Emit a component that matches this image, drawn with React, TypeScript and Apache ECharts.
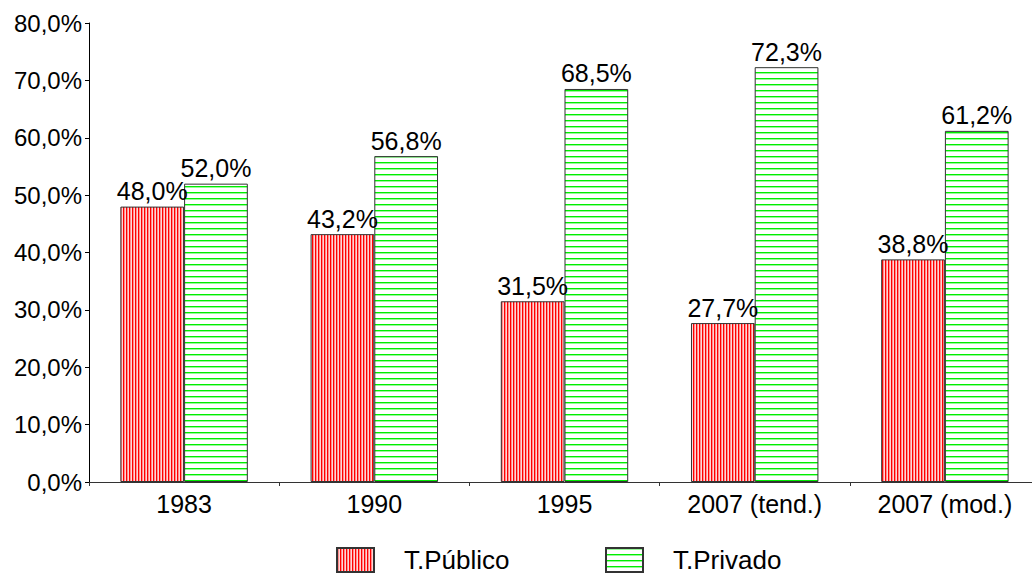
import React, { useEffect, useRef } from "react";
import * as echarts from "echarts";

const categories = ["1983", "1990", "1995", "2007 (tend.)", "2007 (mod.)"];
const publico = [48.0, 43.2, 31.5, 27.7, 38.8];
const privado = [52.0, 56.8, 68.5, 72.3, 61.2];
const seriesNames = ["T.Público", "T.Privado"];

const FONT = "'Liberation Sans', Arial, sans-serif";

function makePattern(kind: "v" | "h"): string {
  const c = document.createElement("canvas");
  const ctx = c.getContext("2d")!;
  if (kind === "v") {
    c.width = 3;
    c.height = 4;
    const cols = ["#ff0000", "#ff8c8c", "#ffd6d6"];
    cols.forEach((col, i) => {
      ctx.fillStyle = col;
      ctx.fillRect(i, 0, 1, 4);
    });
  } else {
    c.width = 4;
    c.height = 6;
    ctx.fillStyle = "#ffffff";
    ctx.fillRect(0, 0, 4, 6);
    ctx.fillStyle = "#00ee00";
    ctx.fillRect(0, 0, 4, 1.4);
  }
  return c.toDataURL();
}

const fmt = (v: number) => v.toFixed(1).replace(".", ",") + "%";

export default function App() {
  const ref = useRef<HTMLDivElement>(null);
  useEffect(() => {
    if (!ref.current) return;
    const chart = echarts.init(ref.current, undefined, { renderer: "svg" });
    const redFill: any = { image: makePattern("v"), repeat: "repeat" };
    const greenFill: any = { image: makePattern("h"), repeat: "repeat" };
    const labelCfg = {
      show: true,
      position: "top" as const,
      distance: 3,
      color: "#000",
      fontSize: 25,
      fontFamily: FONT,
      formatter: (p: any) => fmt(p.value),
    };
    const legendBase = {
      top: 547,
      itemWidth: 37,
      itemHeight: 24,
      padding: 0,
      icon: "rect",
      textStyle: { fontSize: 26, fontFamily: FONT, color: "#000", padding: [0, 0, 0, 25] },
    };
    chart.setOption({
      animation: false,
      backgroundColor: "#fff",
      grid: { left: 89, top: 23, height: 459, width: 951, containLabel: false },
      legend: [
        { ...legendBase, data: [seriesNames[0]], left: 336 },
        { ...legendBase, data: [seriesNames[1]], left: 605 },
      ],
      xAxis: {
        type: "category",
        data: categories,
        axisLine: { lineStyle: { color: "#333", width: 1 } },
        axisTick: { show: true, length: 4, lineStyle: { color: "#333" } },
        axisLabel: { color: "#000", fontSize: 25, fontFamily: FONT, margin: 9 },
      },
      yAxis: {
        type: "value",
        min: 0,
        max: 80,
        interval: 10,
        axisLine: { show: true, lineStyle: { color: "#000", width: 1 } },
        axisTick: { show: true, length: 4, lineStyle: { color: "#000" } },
        splitLine: { show: false },
        axisLabel: {
          color: "#000",
          fontSize: 24,
          fontFamily: FONT,
          margin: 7,
          formatter: (v: number) => fmt(v),
        },
      },
      series: [
        {
          name: seriesNames[0],
          type: "bar",
          data: publico,
          barGap: "0%",
          barCategoryGap: "33%",
          itemStyle: { color: redFill, borderColor: "#333", borderWidth: 1 },
          label: labelCfg,
        },
        {
          name: seriesNames[1],
          type: "bar",
          data: privado,
          barGap: "0%",
          barCategoryGap: "33%",
          itemStyle: { color: greenFill, borderColor: "#333", borderWidth: 1 },
          label: labelCfg,
        },
      ],
    });
    return () => chart.dispose();
  }, []);
  return (
    <div
      style={{
        position: "fixed",
        left: 0,
        top: 0,
        width: 1032,
        height: 576,
        overflow: "hidden",
        background: "#fff",
      }}
    >
      <div ref={ref} style={{ width: 1060, height: 576 }} />
    </div>
  );
}
